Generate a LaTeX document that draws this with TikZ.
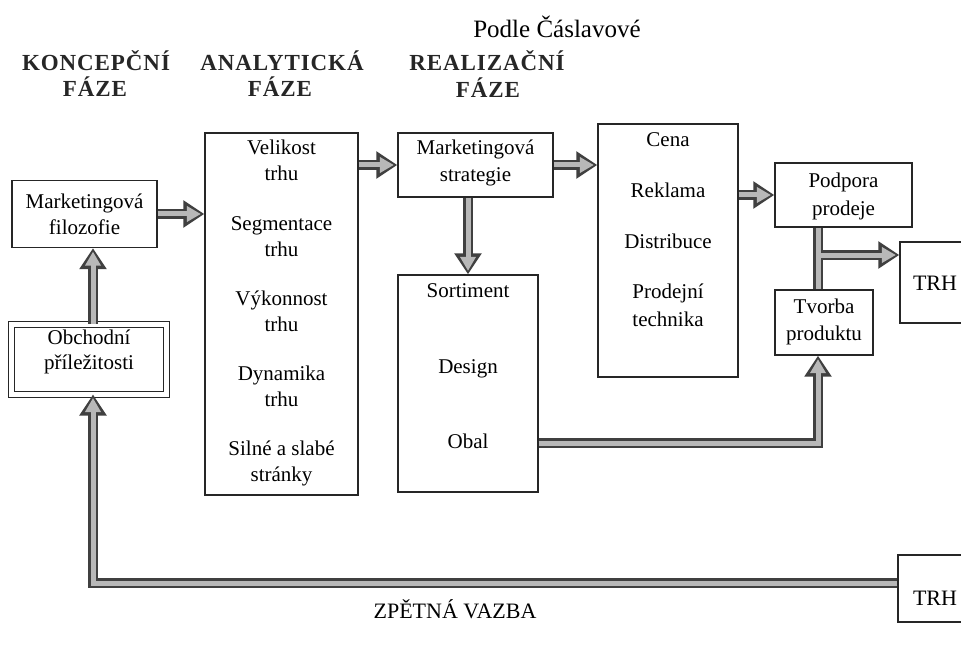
\documentclass[tikz,border=0pt]{standalone}
\usepackage{fontspec}
\setmainfont{Liberation Serif}
\newfontfamily\headfont[LetterSpace=4]{Liberation Serif}
\usetikzlibrary{arrows.meta,calc}
\tikzset{
  box/.style={draw=black!85, line width=1.3pt, inner sep=0pt},
  ln/.style={font=\fontsize{21}{24}\selectfont, inner sep=0pt, text height=14pt, text depth=4pt},
  hd/.style={font=\headfont\bfseries\fontsize{23}{28}\selectfont, text=black!85, inner sep=0pt, text height=16pt, text depth=0pt},
  fatout/.style={line width=10pt, draw=black!75, -{Triangle[length=21pt,width=26pt]}},
  fatin/.style={line width=5pt, draw=black!28, -{Triangle[length=14pt,width=15pt]}, shorten >=3.5pt},
  fatoutL/.style={line width=10pt, draw=black!75},
  fatinL/.style={line width=5pt, draw=black!28},
}
\newcommand\fatarw[1]{\draw[fatout] #1; \draw[fatin] #1;}
\begin{document}
\begin{tikzpicture}[x=1pt,y=-1pt]
\useasboundingbox[fill=white] (0,0) rectangle (961,647);

% header texts
\node[font=\fontsize{25}{28}\selectfont, inner sep=0pt] (src) at (557,27) {Podle Čáslavové};
\node[hd] (h1a) at (96,63) {KONCEPČNÍ};
\node[hd] (h1b) at (95,89) {FÁZE};
\node[hd] (h2a) at (282,63) {ANALYTICKÁ};
\node[hd] (h2b) at (280,89) {FÁZE};
\node[hd] (h3a) at (487,63) {REALIZAČNÍ};
\node[hd] (h3b) at (488,90) {FÁZE};

% boxes
\node[box, minimum width=145pt, minimum height=67pt] (filo) at (84.5,214) {};
\node[ln] (filo1) at (84.5,203) {Marketingová};
\node[ln] (filo2) at (84.5,230) {filozofie};

\node[box, double, double distance=5pt, line width=1pt, minimum width=155pt, minimum height=70pt] (obch) at (89,359) {};
\node[ln] (obch1) at (89,339) {Obchodní};
\node[ln] (obch2) at (89,364) {příležitosti};

\node[box, minimum width=153pt, minimum height=362pt] (ana) at (281.5,314) {};
\node[ln] (ana1) at (281.5,150) {Velikost};
\node[ln] (ana2) at (281.5,176) {trhu};
\node[ln] (ana3) at (281.5,225) {Segmentace};
\node[ln] (ana4) at (281.5,251) {trhu};
\node[ln] (ana5) at (281.5,300) {Výkonnost};
\node[ln] (ana6) at (281.5,326) {trhu};
\node[ln] (ana7) at (281.5,375) {Dynamika};
\node[ln] (ana8) at (281.5,401) {trhu};
\node[ln] (ana9) at (281.5,450) {Silné a slabé};
\node[ln] (ana10) at (281.5,476) {stránky};

\node[box, minimum width=155pt, minimum height=64pt] (stra) at (475.5,165) {};
\node[ln] (stra1) at (475.5,150) {Marketingová};
\node[ln] (stra2) at (475.5,177) {strategie};

\node[box, minimum width=140pt, minimum height=217pt] (sort) at (468,383.5) {};
\node[ln] (sort1) at (468,292) {Sortiment};
\node[ln] (sort2) at (468,368) {Design};
\node[ln] (sort3) at (468,443) {Obal};

\node[box, minimum width=140pt, minimum height=253pt] (cena) at (668,250.5) {};
\node[ln] (cena1) at (668,142) {Cena};
\node[ln] (cena2) at (668,193) {Reklama};
\node[ln] (cena3) at (668,243) {Distribuce};
\node[ln] (cena4) at (668,293) {Prodejní};
\node[ln] (cena5) at (668,321) {technika};

\node[box, minimum width=137pt, minimum height=64pt] (podp) at (843.5,195) {};
\node[ln] (podp1) at (843.5,183) {Podpora};
\node[ln] (podp2) at (843.5,210) {prodeje};

\node[box, minimum width=98pt, minimum height=65pt] (tvor) at (824,322.5) {};
\node[ln] (tvor1) at (824,308) {Tvorba};
\node[ln] (tvor2) at (824,335) {produktu};

\node[box, minimum width=66pt, minimum height=81pt] (trh1) at (933,282.5) {};
\node[ln, font=\fontsize{22}{24}\selectfont] (trh1t) at (935,285) {TRH};

\node[box, minimum width=68pt, minimum height=67pt] (trh2) at (932,588.5) {};
\node[ln, font=\fontsize{22}{24}\selectfont] (trh2t) at (935,600) {TRH};

\node[ln, font=\fontsize{22}{24}\selectfont] (zv) at (455,613) {ZPĚTNÁ VAZBA};

% helper coordinates
\coordinate (jx) at (818,255);
\coordinate (fbk) at (93,583);

% connectors
\fatarw{(filo.east) -- (filo.east -| ana.west)}
\fatarw{(stra.west -| ana.east) -- (stra.west)}
\fatarw{(stra.east) -- (stra.east -| cena.west)}
\fatarw{(sort.north |- stra.south) -- (sort.north)}
\fatarw{(podp.west -| cena.east) -- (podp.west)}
\fatarw{(obch.north -| fbk) -- (filo.south -| fbk)}
\fatarw{(trh2.west |- fbk) -- (fbk) -- (obch.south -| fbk)}
\fatarw{(sort.east |- sort3) -- (sort3 -| jx) -- (tvor.south -| jx)}

% bar from Podpora prodeje to Tvorba produktu with branch to TRH
\draw[fatoutL] (podp.south -| jx) -- (tvor.north -| jx);
\draw[fatout] (jx) -- (jx -| trh1.west);
\draw[fatinL] (podp.south -| jx) -- (tvor.north -| jx);
\draw[fatin] (jx) -- (jx -| trh1.west);
\end{tikzpicture}
\end{document}
